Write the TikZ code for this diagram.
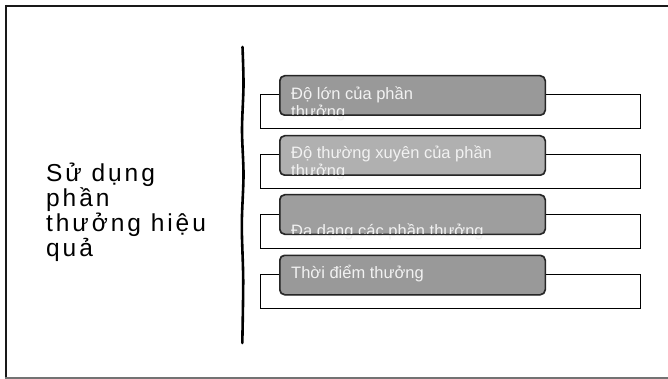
\documentclass[tikz,border=0pt]{standalone}
\usepackage{fontspec}
\setmainfont{Liberation Sans}
\newfontfamily\spacedfont[LetterSpace=12]{Liberation Sans}
\begin{document}
\begin{tikzpicture}[x=1pt,y=-1pt,
  panel/.style={draw=black, line width=1pt, fill=white, rectangle,
    minimum width=380pt, minimum height=34pt, inner sep=0pt},
  tab/.style={draw=black!85, line width=1pt, rounded corners=5pt, rectangle,
    minimum width=265pt, minimum height=39pt, inner sep=0pt},
  tabtext/.style={anchor=base west, inner sep=0pt, text=white!95!black,
    font=\fontsize{16.5}{17.5}\selectfont, align=left},
  lead/.style={anchor=base west, inner sep=0pt, align=left,
    font=\spacedfont\fontsize{24.5}{25}\selectfont}]
  \useasboundingbox (0,0) rectangle (668,379);
  \fill[white] (0,0) rectangle (668,379);

  % frame
  \draw[line width=2pt, black!90] (5,6) -- (668,6);
  \draw[line width=2.5pt, black!90] (6,5) -- (6,379);
  \draw[line width=1.5pt, black!55] (5,378) -- (668,378);

  % topic label (anchored on the baseline of its last line)
  \node[lead] (topic) at (46,256) {Sử dụng\\phần\\thưởng hiệu\\quả};

  % brace-like divider
  \draw[line width=2.6pt, line cap=round] plot[smooth] coordinates
    {(242.5,47) (243.5,85) (242,130) (243.5,175) (241.8,225) (243.2,280) (242.3,343)};

  % panels with tabs; two-line labels are anchored on their last line
  \node[panel] (p1) at (450,112) {};
  \node[tab, fill=black!40] (t1) at (412.5,95.5) {};
  \node[tabtext] (l1) at (291,117.5) {Độ lớn của phần\\thưởng};
  \draw[black!85, line width=1pt, rounded corners=5pt] (t1.north west) rectangle (t1.south east);

  \node[panel] (p2) at (450,172) {};
  \node[tab, fill=black!31] (t2) at (412.5,155.5) {};
  \node[tabtext] (l2) at (291,176.5) {Độ thường xuyên của phần\\thưởng};
  \draw[black!85, line width=1pt, rounded corners=5pt] (t2.north west) rectangle (t2.south east);

  \node[panel] (p3) at (450,231.5) {};
  \node[tab, fill=black!38] (t3) at (412.5,214.5) {};
  \node[tabtext] (l3) at (291,236.5) {Đa dạng các phần thưởng};
  \draw[black!85, line width=1pt, rounded corners=5pt] (t3.north west) rectangle (t3.south east);

  \node[panel] (p4) at (450,291) {};
  \node[tab, fill=black!40] (t4) at (412.5,275) {};
  \node[tabtext] (l4) at (291,278) {Thời điểm thưởng};
  \draw[black!85, line width=1pt, rounded corners=5pt] (t4.north west) rectangle (t4.south east);
\end{tikzpicture}
\end{document}
